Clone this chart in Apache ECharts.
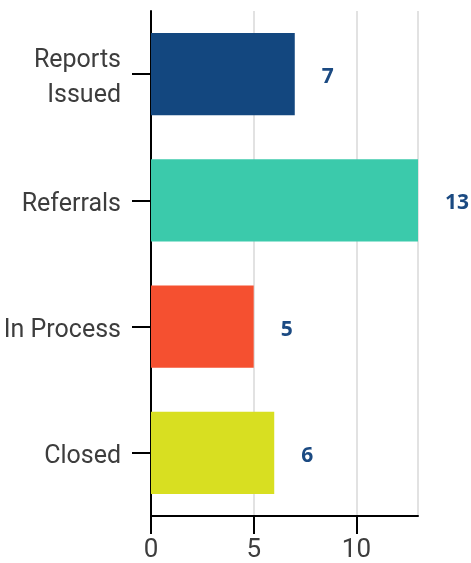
<!DOCTYPE html>
<html style="height: 100%">
<head>
  <meta charset="UTF-8">
  <title>Case Status</title>
  <script src="https://cdn.jsdelivr.net/npm/echarts@6/dist/echarts.min.js"></script>
  <style>
    html, body {
      margin: 0;
      height: 100%;
      width: 100%;
      background: #fff;
    }
    #chart {
      width: 471px;
      height: 563px;
    }
  </style>
</head>
<body>
  <div id="chart"></div>
  <script>
    // data
    const categories = ['Reports\nIssued', 'Referrals', 'In Process', 'Closed'];
    const values = [7, 13, 5, 6];
    const barColors = ['#13477f', '#3bcaab', '#f55030', '#d8df21'];

    const axisFont = 'Roboto, sans-serif';
    const labelText = { color: '#3d3d3d', fontSize: 25, fontFamily: axisFont, padding: [8, 0, 0, 0] };

    const chart = echarts.init(document.getElementById('chart'));
    chart.setOption({
      animation: false,
      grid: {
        left: 151,
        right: 53,
        top: 11,
        bottom: 47,
        containLabel: false
      },
      xAxis: {
        type: 'value',
        min: 0,
        max: 13,
        interval: 5,
        axisLine: { show: true, lineStyle: { color: '#000', width: 2 } },
        axisTick: { show: true, length: 18, lineStyle: { color: '#000', width: 2 } },
        axisLabel: {
          color: '#3d3d3d',
          fontSize: 26,
          fontFamily: axisFont,
          margin: 21,
          showMaxLabel: false
        },
        splitLine: { show: true, lineStyle: { color: '#e2e2e2', width: 2 } }
      },
      yAxis: {
        type: 'category',
        inverse: true,
        data: categories,
        axisLine: { show: true, lineStyle: { color: '#000', width: 2 } },
        axisTick: { show: true, alignWithLabel: true, length: 19, lineStyle: { color: '#000', width: 2 } },
        axisLabel: {
          margin: 30,
          // push each line down a few px, like the reference
          formatter: v => {
            const lines = v.split('\n');
            const key = lines.length > 1 ? 'm' : 't';
            return lines.map(s => '{' + key + '|' + s + '}').join('\n');
          },
          rich: {
            t: Object.assign({ lineHeight: 27 }, labelText),
            m: Object.assign({ lineHeight: 35 }, labelText)
          }
        }
      },
      series: [{
        type: 'bar',
        data: values.map((v, i) => ({ value: v, itemStyle: { color: barColors[i] } })),
        barCategoryGap: '35%',
        label: {
          show: true,
          position: 'right',
          distance: 27,
          offset: [0, 3],
          color: '#1b4a82',
          fontSize: 21,
          fontWeight: 'bold',
          fontFamily: '"Open Sans", sans-serif'
        }
      }]
    });
  </script>
</body>
</html>
